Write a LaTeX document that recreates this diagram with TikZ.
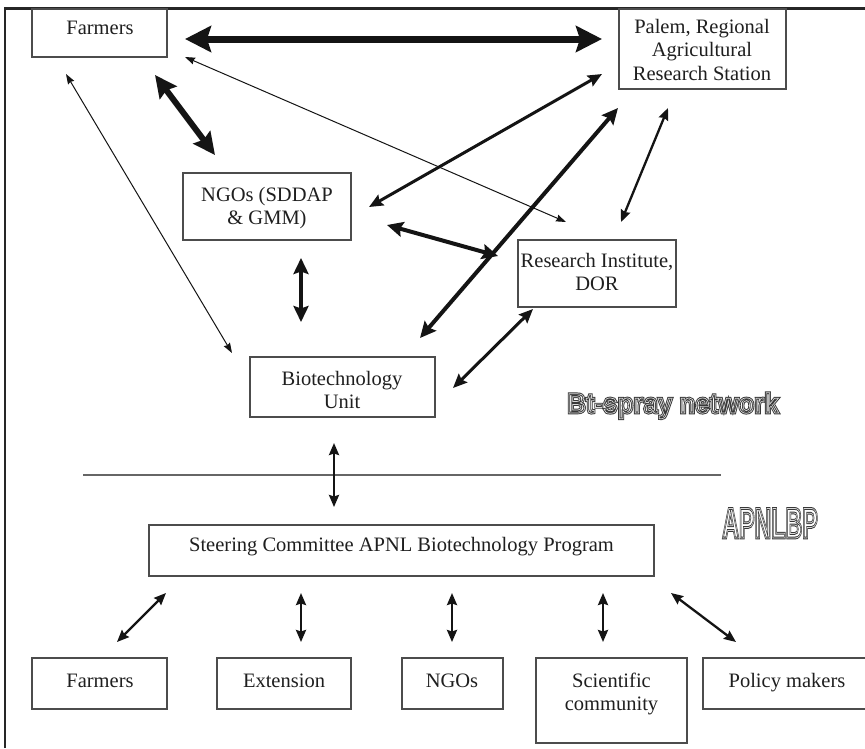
\documentclass[tikz,border=0pt]{standalone}
\usepackage{fontspec}
\setmainfont{Liberation Serif}
\newfontfamily\outlinefont{Liberation Sans}
\usetikzlibrary{arrows.meta}
\newcommand{\outltext}[2]{\special{pdf:literal direct 1 Tr #1}#2\special{pdf:literal direct 0 Tr}}
\begin{document}
\begin{tikzpicture}[x=1pt,y=-1pt,
  box/.style={draw=black!70, line width=1.3pt, inner sep=0pt, rectangle},
  txt/.style={inner sep=0pt, anchor=base, font=\fontsize{20.5}{24}\selectfont, text=black!88},
  outl/.style={inner sep=0pt, anchor=base},
  conn/.style={draw=black!92, <->},
  heavyA/.style={conn, line width=7pt, >={Stealth[length=26pt,width=26pt,inset=4pt]}},
  heavyB/.style={conn, line width=6pt, >={Stealth[length=22pt,width=21pt,inset=3pt]}},
  midA/.style={conn, line width=4pt, >={Stealth[length=16pt,width=15pt,inset=2.5pt]}},
  midB/.style={conn, line width=3pt, >={Stealth[length=14pt,width=12pt,inset=2pt]}},
  midC/.style={conn, line width=2.3pt, >={Stealth[length=12pt,width=10pt,inset=1.5pt]}},
  thinA/.style={conn, line width=1pt, >={Stealth[length=10pt,width=7pt,inset=1pt]}}
]
\useasboundingbox (0,0) rectangle (865,748);
\fill[white] (0,0) rectangle (865,748);
% frame
\draw[line width=2.4pt, black!85] (5,748) -- (5,8.5) -- (866,8.5);

% boxes
\node[box, minimum width=135pt, minimum height=48pt] (farmersT) at (99.5,33) {};
\node[box, minimum width=167pt, minimum height=80pt] (palem) at (702.5,49) {};
\node[box, minimum width=168pt, minimum height=67pt] (ngos) at (267,206.5) {};
\node[box, minimum width=158pt, minimum height=67pt] (research) at (597,273.5) {};
\node[box, minimum width=185pt, minimum height=60pt] (biotech) at (342.5,387) {};
\node[box, minimum width=505pt, minimum height=51pt] (steering) at (401.5,550.5) {};
\node[box, minimum width=135pt, minimum height=51pt] (farmersB) at (99.5,683.5) {};
\node[box, minimum width=134pt, minimum height=51pt] (extension) at (284,683.5) {};
\node[box, minimum width=101pt, minimum height=51pt] (ngosB) at (452.5,683.5) {};
\node[box, minimum width=151pt, minimum height=85pt] (scientific) at (611.5,700.5) {};
\node[box, minimum width=172pt, minimum height=51pt] (policy) at (789,683.5) {};

% texts
\node[txt] (tFarmersT) at (100,34) {Farmers};
\node[txt] (tPalem1) at (702,33) {Palem, Regional};
\node[txt] (tPalem2) at (702,56.5) {Agricultural};
\node[txt] (tPalem3) at (702,80) {Research Station};
\node[txt] (tNgos1) at (267,201) {NGOs (SDDAP};
\node[txt] (tNgos2) at (267,224) {\& GMM)};
\node[txt] (tRes1) at (597,267) {Research Institute,};
\node[txt] (tRes2) at (597,290) {DOR};
\node[txt] (tBio1) at (342,385) {Biotechnology};
\node[txt] (tBio2) at (342,408) {Unit};
\node[txt] (tSteer) at (401.5,551.5) {Steering Committee APNL Biotechnology Program};
\node[txt] (tFarmersB) at (100,687) {Farmers};
\node[txt] (tExt) at (284,687) {Extension};
\node[txt] (tNgosB) at (452,687) {NGOs};
\node[txt] (tSci1) at (611.5,687) {Scientific};
\node[txt] (tSci2) at (611.5,710) {community};
\node[txt] (tPol) at (787,687) {Policy makers};

% separator line
\draw[line width=2pt, black!60] (83,475) -- (721,475);

% endpoints of connectors
\coordinate (fp1) at (185,39);   \coordinate (fp2) at (602,39);
\coordinate (fn1) at (155,75);   \coordinate (fn2) at (215,155);
\coordinate (fr1) at (185,57);   \coordinate (fr2) at (566,222);
\coordinate (fb1) at (66,74);    \coordinate (fb2) at (232,353);
\coordinate (pn1) at (602,74);   \coordinate (pn2) at (369,207);
\coordinate (pb1) at (618,108);  \coordinate (pb2) at (420,338);
\coordinate (pr1) at (668,108);  \coordinate (pr2) at (621,222);
\coordinate (nr1) at (387,225);  \coordinate (nr2) at (498,256);
\coordinate (nb1) at (301,258);  \coordinate (nb2) at (301,322);
\coordinate (rb1) at (533,309);  \coordinate (rb2) at (453,388);
\coordinate (bs1) at (334,443);  \coordinate (bs2) at (334,507);
\coordinate (s1a) at (166,593);  \coordinate (s1b) at (117,642);
\coordinate (s2a) at (301,593);  \coordinate (s2b) at (301,642);
\coordinate (s3a) at (452,593);  \coordinate (s3b) at (452,642);
\coordinate (s4a) at (603,593);  \coordinate (s4b) at (603,642);
\coordinate (s5a) at (671,593);  \coordinate (s5b) at (736,642);

% connectors
\draw[heavyA] (fp1) -- (fp2);
\draw[heavyB] (fn1) -- (fn2);
\draw[thinA] (fr1) -- (fr2);
\draw[thinA] (fb1) -- (fb2);
\draw[midB] (pn1) -- (pn2);
\draw[midA] (pb1) -- (pb2);
\draw[midC] (pr1) -- (pr2);
\draw[midA] (nr1) -- (nr2);
\draw[midA] (nb1) -- (nb2);
\draw[midB] (rb1) -- (rb2);
\draw[midC] (bs1) -- (bs2);
\draw[midC] (s1a) -- (s1b);
\draw[midC] (s2a) -- (s2b);
\draw[midC] (s3a) -- (s3b);
\draw[midC] (s4a) -- (s4b);
\draw[midC] (s5a) -- (s5b);

% outlined labels (dark stroke, then a thin white stroke on top for the double outline)
\node[outl] (btspray) at (673,413) {\outlinefont\bfseries\fontsize{28}{30}\selectfont\scalebox{0.925}[1]{\outltext{2.6 w 0.22 0.22 0.22 RG}{Bt-spray network}}};
\node[outl] (btsprayW) at (673,413) {\outlinefont\bfseries\fontsize{28}{30}\selectfont\scalebox{0.925}[1]{\outltext{0.7 w 0.85 0.85 0.85 RG}{Bt-spray network}}};
\node[outl] (apnlbp) at (770,538) {\outlinefont\bfseries\fontsize{43}{45}\selectfont\scalebox{0.54}[1]{\outltext{2.8 w 0.22 0.22 0.22 RG}{APNLBP}}};
\node[outl] (apnlbpW) at (770,538) {\outlinefont\bfseries\fontsize{43}{45}\selectfont\scalebox{0.54}[1]{\outltext{0.8 w 0.85 0.85 0.85 RG}{APNLBP}}};
\end{tikzpicture}
\end{document}
